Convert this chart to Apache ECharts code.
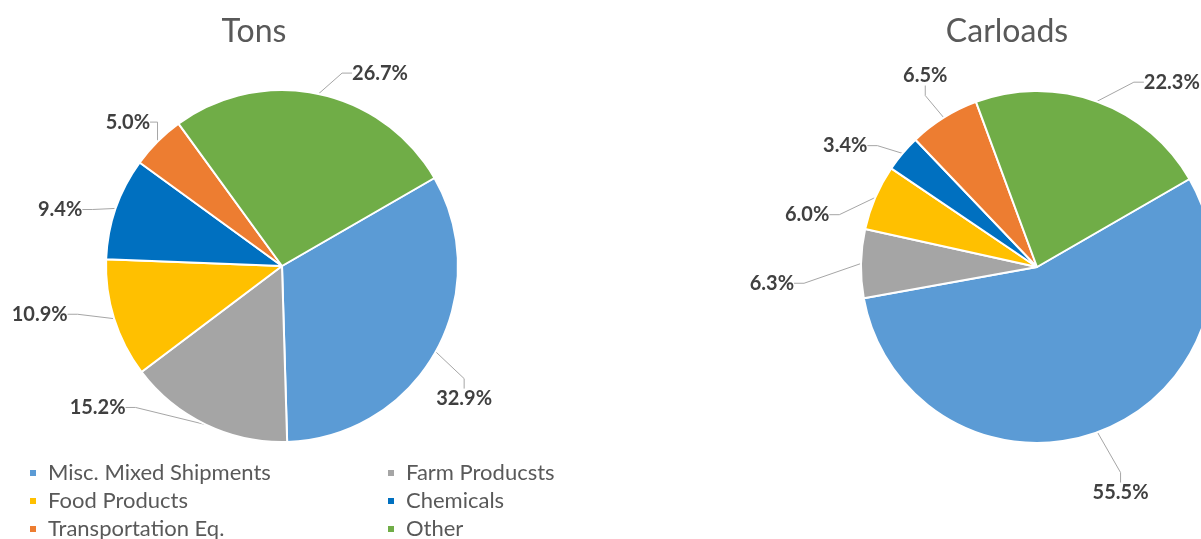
<!DOCTYPE html>
<html><head><meta charset="utf-8">
<script src="https://cdn.jsdelivr.net/npm/echarts@6/dist/echarts.min.js"></script>
<style>html,body{margin:0;padding:0;background:#fff}#c{width:1201px;height:539px}</style>
</head><body><div id="c"></div>
<script>
// ---- data ----
const categories = ['Misc. Mixed Shipments', 'Farm Producsts', 'Food Products', 'Chemicals', 'Transportation Eq.', 'Other'];
const tonsShare = [32.9, 15.2, 10.9, 9.4, 5.0, 26.7];
const carloadsShare = [55.5, 6.3, 6.0, 3.4, 6.5, 22.3];
const chartTitles = ['Tons', 'Carloads'];
const legendCol1 = ['Misc. Mixed Shipments', 'Food Products', 'Transportation Eq.'];
const legendCol2 = ['Farm Producsts', 'Chemicals', 'Other'];

// ---- styling / layout (not data) ----
const colors = ['#5B9BD5', '#A5A5A5', '#FFC000', '#0070C0', '#ED7D31', '#70AD47'];
const tonsNudge = [[-25, 41], [-60, -28], [-20, -8], [-7, 5], [16, -11], [16, -9]];
const carloadsNudge = [[-24, 49], [-40, 20], [-20, 22], [-11, 0], [25, -32], [28, -8]];
const FONT = 'Lato';

function pieSeries(name, values, center, nudge) {
  return {
    name: name,
    type: 'pie',
    center: center,
    radius: 176,
    startAngle: 30,
    clockwise: true,
    avoidLabelOverlap: false,
    itemStyle: { borderColor: '#ffffff', borderWidth: 2 },
    label: {
      show: true,
      position: 'outside',
      formatter: p => p.value.toFixed(1) + '%',
      fontFamily: FONT, fontSize: 20, fontWeight: 'bold', color: '#404040'
    },
    labelLine: { show: true, length: 12, length2: 10, lineStyle: { color: '#A6A6A6', width: 1 } },
    labelLayout: function (p) {
      const n = nudge[p.dataIndex];
      const r = p.labelRect;
      return { x: r.x + n[0], y: r.y + n[1], align: 'left', verticalAlign: 'top' };
    },
    emphasis: { disabled: true },
    data: categories.map((c, i) => ({ name: c, value: values[i] }))
  };
}

const legendBase = {
  orient: 'vertical',
  icon: 'rect',
  itemWidth: 8,
  itemHeight: 8,
  itemGap: 6,
  padding: 0,
  height: 100,
  selectedMode: false,
  textStyle: { fontFamily: FONT, fontSize: 22, color: '#595959', lineHeight: 20, padding: [0, 0, 0, 6] }
};

const chart = echarts.init(document.getElementById('c'), null, { renderer: 'canvas' });
chart.setOption({
  backgroundColor: '#ffffff',
  color: colors,
  animation: false,
  title: [
    { text: chartTitles[0], left: 249, top: 11, textAlign: 'center', textStyle: { fontFamily: FONT, fontSize: 32, fontWeight: 'normal', color: '#595959' } },
    { text: chartTitles[1], left: 1002, top: 11, textAlign: 'center', textStyle: { fontFamily: FONT, fontSize: 32, fontWeight: 'normal', color: '#595959' } }
  ],
  legend: [
    Object.assign({}, legendBase, { left: 28, top: 462, data: legendCol1 }),
    Object.assign({}, legendBase, { left: 386, top: 462, data: legendCol2 })
  ],
  series: [
    pieSeries(chartTitles[0], tonsShare, [282, 266], tonsNudge),
    pieSeries(chartTitles[1], carloadsShare, [1037, 267], carloadsNudge)
  ]
});
</script>
</body></html>
